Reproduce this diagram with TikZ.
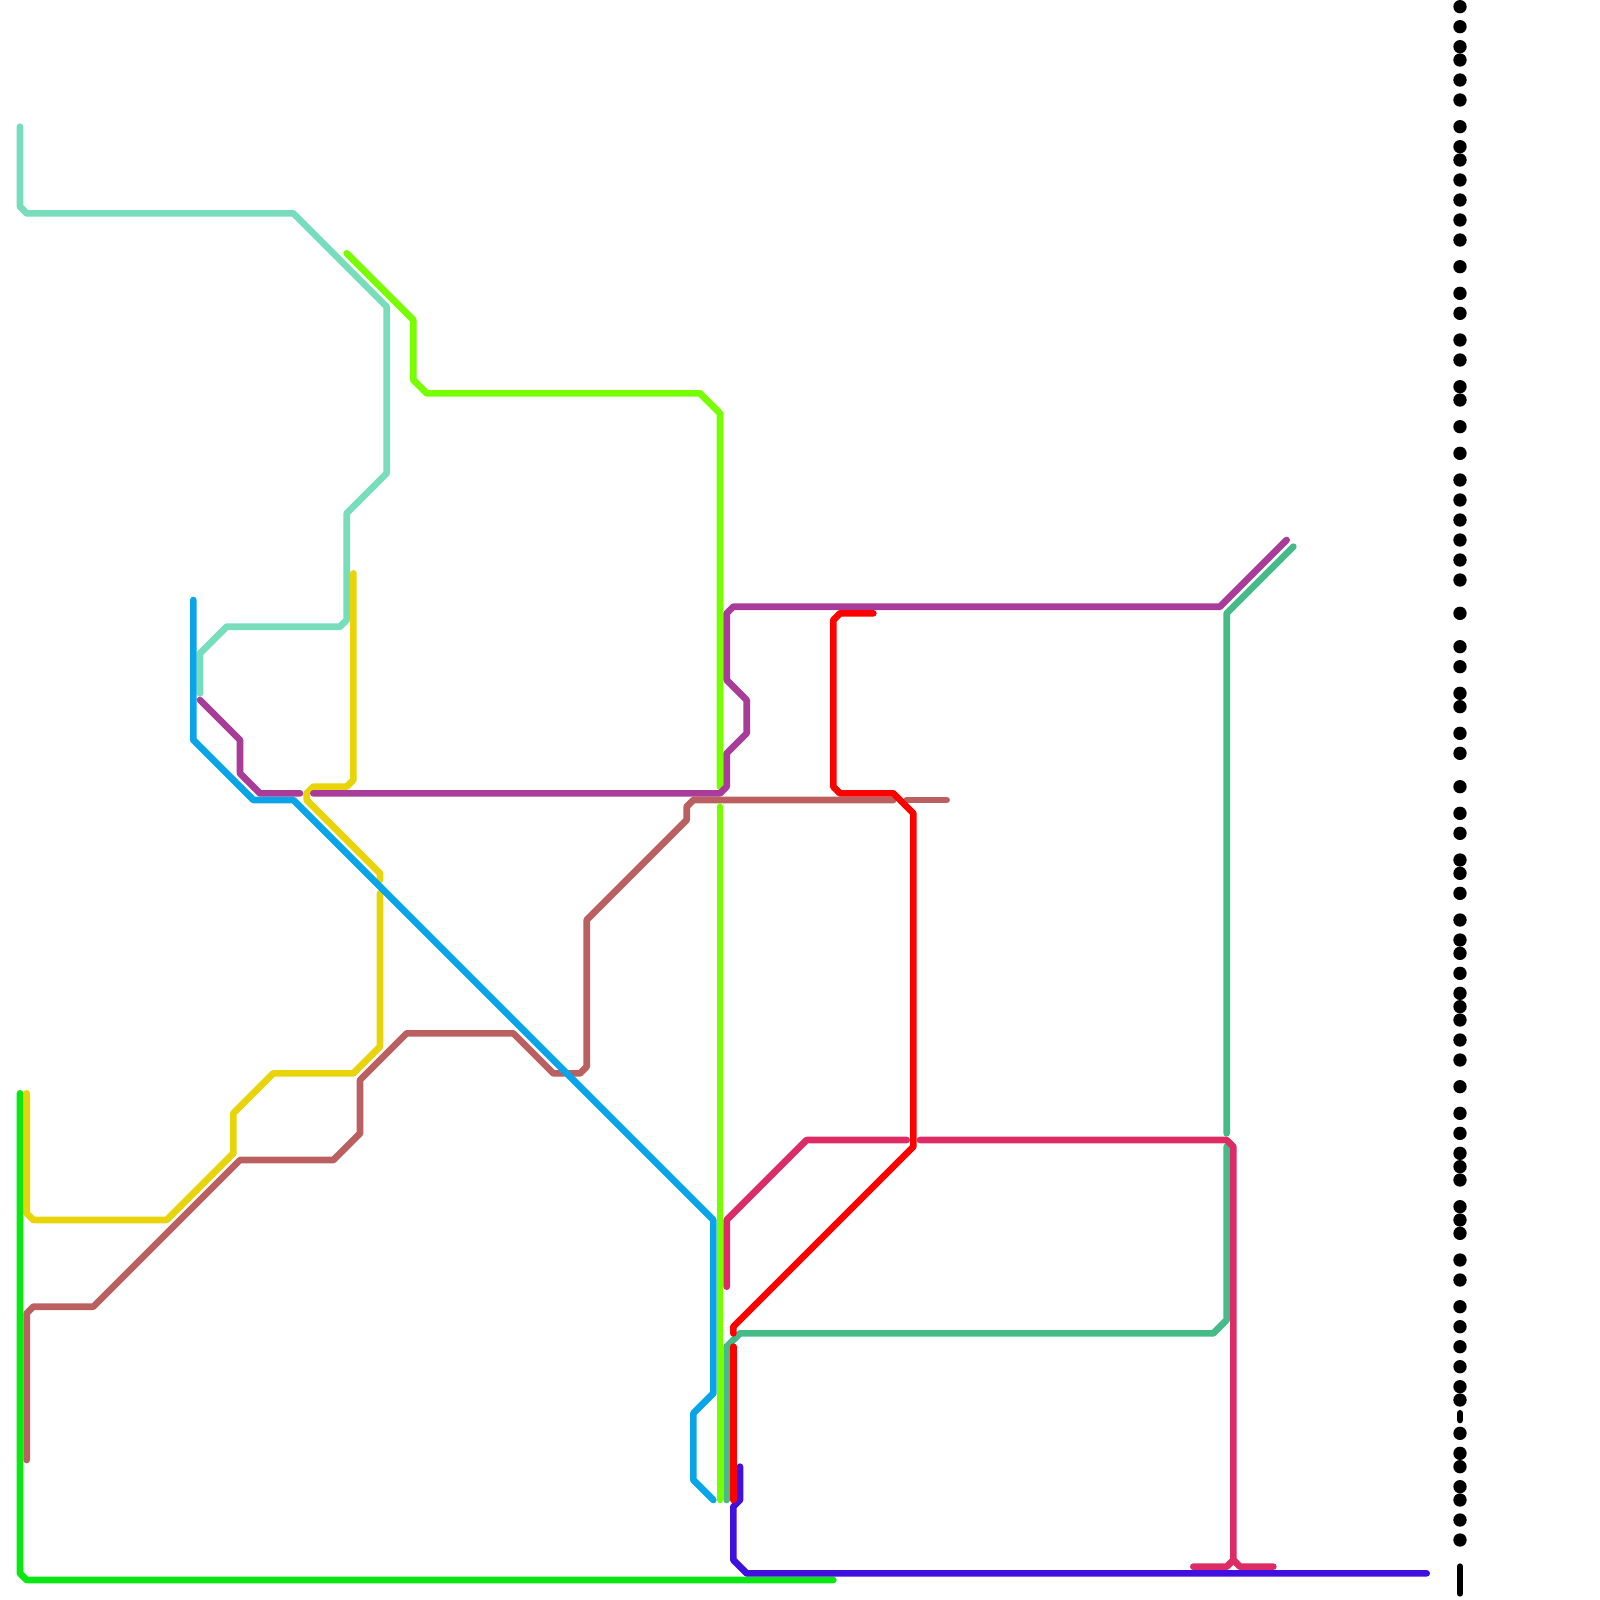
\documentclass[tikz,border=0pt]{standalone}
\definecolor{cAqua}{HTML}{77DDBB}
\definecolor{cLime}{HTML}{77FF00}
\definecolor{cBlue}{HTML}{0AA5E8}
\definecolor{cPurple}{HTML}{AA3C99}
\definecolor{cYellow}{HTML}{E8D408}
\definecolor{cBrown}{HTML}{BB6060}
\definecolor{cRed}{HTML}{FF0000}
\definecolor{cPink}{HTML}{DD2B66}
\definecolor{cTeal}{HTML}{44BB88}
\definecolor{cIndigo}{HTML}{4010E0}
\definecolor{cGreen}{HTML}{0AE814}
\tikzset{metro/.style={line width=0.1cm,line cap=round,line join=round}}
\begin{document}
\begin{tikzpicture}[x=0.1cm,y=-0.1cm]
\useasboundingbox (0,0) rectangle (240,240);
% black stops
\foreach \n in {1,4,7,9,12,15,19,22,24,27,30,33,36,40,44,47,51,54,58,60,64,68,72,75,78,81,84,87,92,97,100,104,106,110,113,118,122,125,129,131,134,138,141,143,146,149,151,153,156,159,163,167,170,173,175,177,181,183,185,189,192,196,199,202,205,208,210,215,218,220,223,225,228,231}
  \fill[black] (219,\n) circle[radius=1];
\draw[metro,black] (219,212) -- (219,213);
\draw[metro,black] (219,235) -- (219,239);
% lines
\draw[metro,cAqua] (3,19) -- (3,31) -- (4,32) -- (44,32) -- (58,46) -- (58,71) -- (52,77) -- (52,93) -- (51,94) -- (34,94) -- (30,98) -- (30,104);
\draw[metro,cYellow] (53,86) -- (53,117) -- (52,118) -- (47,118) -- (46,119) -- (46,120) -- (57,131) -- (57,132);
\draw[metro,cYellow] (57,134) -- (57,157) -- (53,161) -- (41,161) -- (35,167) -- (35,173) -- (25,183) -- (5,183) -- (4,182) -- (4,164);
\draw[metro,cBrown] (4,219) -- (4,197) -- (5,196) -- (14,196) -- (36,174) -- (50,174) -- (54,170) -- (54,162) -- (61,155) -- (77,155) -- (83,161) -- (87,161) -- (88,160) -- (88,138) -- (103,123) -- (103,121) -- (104,120) -- (134,120);
\draw[metro,cBrown] (136,120) -- (142,120);
\draw[metro,cGreen] (3,164) -- (3,236) -- (4,237) -- (125,237);
\draw[metro,cBlue] (29,90) -- (29,111) -- (38,120) -- (44,120) -- (107,183) -- (107,209) -- (104,212) -- (104,222) -- (107,225);
\draw[metro,cLime] (52,38) -- (62,48) -- (62,57) -- (64,59) -- (105,59) -- (108,62) -- (108,118);
\draw[metro,cLime] (108,121) -- (108,225);
\draw[metro,cPurple] (30,105) -- (36,111) -- (36,116) -- (39,119) -- (45,119);
\draw[metro,cPurple] (47,119) -- (108,119) -- (109,118) -- (109,113) -- (112,110) -- (112,105) -- (109,102) -- (109,92) -- (110,91) -- (183,91) -- (193,81);
\draw[metro,cTeal] (194,82) -- (184,92) -- (184,170);
\draw[metro,cTeal] (184,172) -- (184,198) -- (182,200) -- (111,200) -- (109,202) -- (109,225);
\draw[metro,cPink] (109,193) -- (109,183) -- (121,171) -- (136,171);
\draw[metro,cPink] (138,171) -- (184,171) -- (185,172) -- (185,234) -- (184,235) -- (179,235);
\draw[metro,cPink] (185,234) -- (186,235) -- (191,235);
\draw[metro,cIndigo] (111,220) -- (111,225) -- (110,226) -- (110,234) -- (112,236) -- (214,236);
\draw[metro,cRed] (131,92) -- (126,92) -- (125,93) -- (125,118) -- (126,119) -- (134,119) -- (137,122) -- (137,172) -- (110,199) -- (110,200);
\draw[metro,cRed] (110,202) -- (110,225);
\end{tikzpicture}
\end{document}
